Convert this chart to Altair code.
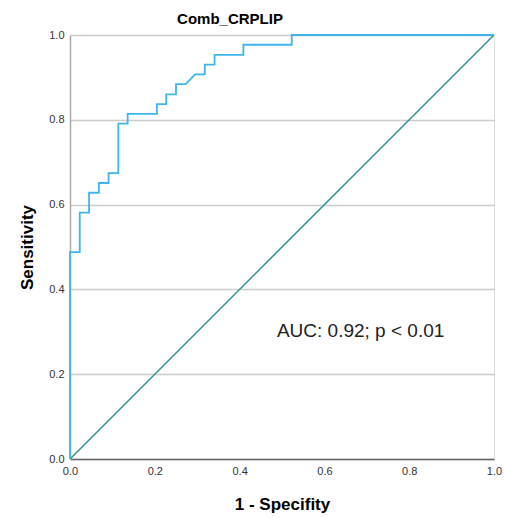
import altair as alt
import pandas as pd

# ROC curve points (1 - specificity, sensitivity)
fpr = [0.0, 0.0, 0.023, 0.023, 0.045, 0.045, 0.068, 0.068, 0.091, 0.091,
       0.114, 0.114, 0.136, 0.136, 0.205, 0.205, 0.227, 0.227, 0.250, 0.250,
       0.273, 0.295, 0.318, 0.318, 0.341, 0.341, 0.409, 0.409, 0.523, 0.523, 1.0]
tpr = [0.0, 0.488, 0.488, 0.581, 0.581, 0.628, 0.628, 0.651, 0.651, 0.674,
       0.674, 0.791, 0.791, 0.814, 0.814, 0.837, 0.837, 0.860, 0.860, 0.884,
       0.884, 0.907, 0.907, 0.930, 0.930, 0.953, 0.953, 0.977, 0.977, 1.0, 1.0]
ref_x = [0.0, 1.0]
ref_y = [0.0, 1.0]
ticks = [0.0, 0.2, 0.4, 0.6, 0.8, 1.0]
annotation = "AUC: 0.92; p < 0.01"

roc = pd.DataFrame({"fpr": fpr, "tpr": tpr, "order": list(range(len(fpr)))})
ref = pd.DataFrame({"fpr": ref_x, "tpr": ref_y, "order": [0, 1]})
ann = pd.DataFrame({"fpr": [0.488], "tpr": [0.303], "label": [annotation]})

FONT = "Liberation Sans"

xscale = alt.Scale(domain=[0, 1], nice=False, zero=False)
yscale = alt.Scale(domain=[0, 1], nice=False, zero=False)

xaxis = alt.Axis(title="1 - Specifity", values=ticks, format=".1f", grid=False,
                 ticks=False, labelPadding=6, labelFontSize=11, labelColor="#333333",
                 labelFlush=False,
                 labelFont=FONT, titleFont=FONT, titleFontSize=17, titleFontWeight="bold",
                 titleColor="#000000", titlePadding=20, domainColor="#666666",
                 domainWidth=1.5)
yaxis = alt.Axis(title="Sensitivity", values=ticks, format=".1f", grid=True,
                 gridColor="#cccccc", gridWidth=1.5, ticks=False, labelPadding=6,
                 labelFlush=False,
                 labelFontSize=11, labelColor="#333333", labelFont=FONT,
                 titleFont=FONT, titleFontSize=17, titleFontWeight="bold",
                 titleColor="#000000", titlePadding=12, domainColor="#aaaaaa",
                 domainWidth=1.5)

base_ref = alt.Chart(ref).mark_line(color="#2E9393", strokeWidth=1.5, clip=True).encode(
    x=alt.X("fpr:Q", scale=xscale, axis=xaxis),
    y=alt.Y("tpr:Q", scale=yscale, axis=yaxis),
    order="order:Q",
)

roc_line = alt.Chart(roc).mark_line(color="#3DB6EC", strokeWidth=1.8, clip=False).encode(
    x=alt.X("fpr:Q", scale=xscale),
    y=alt.Y("tpr:Q", scale=yscale),
    order="order:Q",
)

text = alt.Chart(ann).mark_text(align="left", baseline="middle", fontSize=19,
                                font=FONT, color="#222222").encode(
    x=alt.X("fpr:Q", scale=xscale),
    y=alt.Y("tpr:Q", scale=yscale),
    text="label:N",
)

chart = alt.layer(base_ref, roc_line, text).properties(
    width=424,
    height=424,
    autosize=alt.AutoSizeParams(type="none"),
    padding={"left": 70, "top": 35, "right": 11, "bottom": 59},
    title=alt.TitleParams(text="Comb_CRPLIP", font=FONT, fontSize=15,
                          fontWeight="bold", color="#000000", anchor="middle",
                          dx=-52, offset=2),
).configure_view(stroke=None).configure(background="white")

chart.save("out.html", embed_options={"renderer": "svg", "actions": False})
